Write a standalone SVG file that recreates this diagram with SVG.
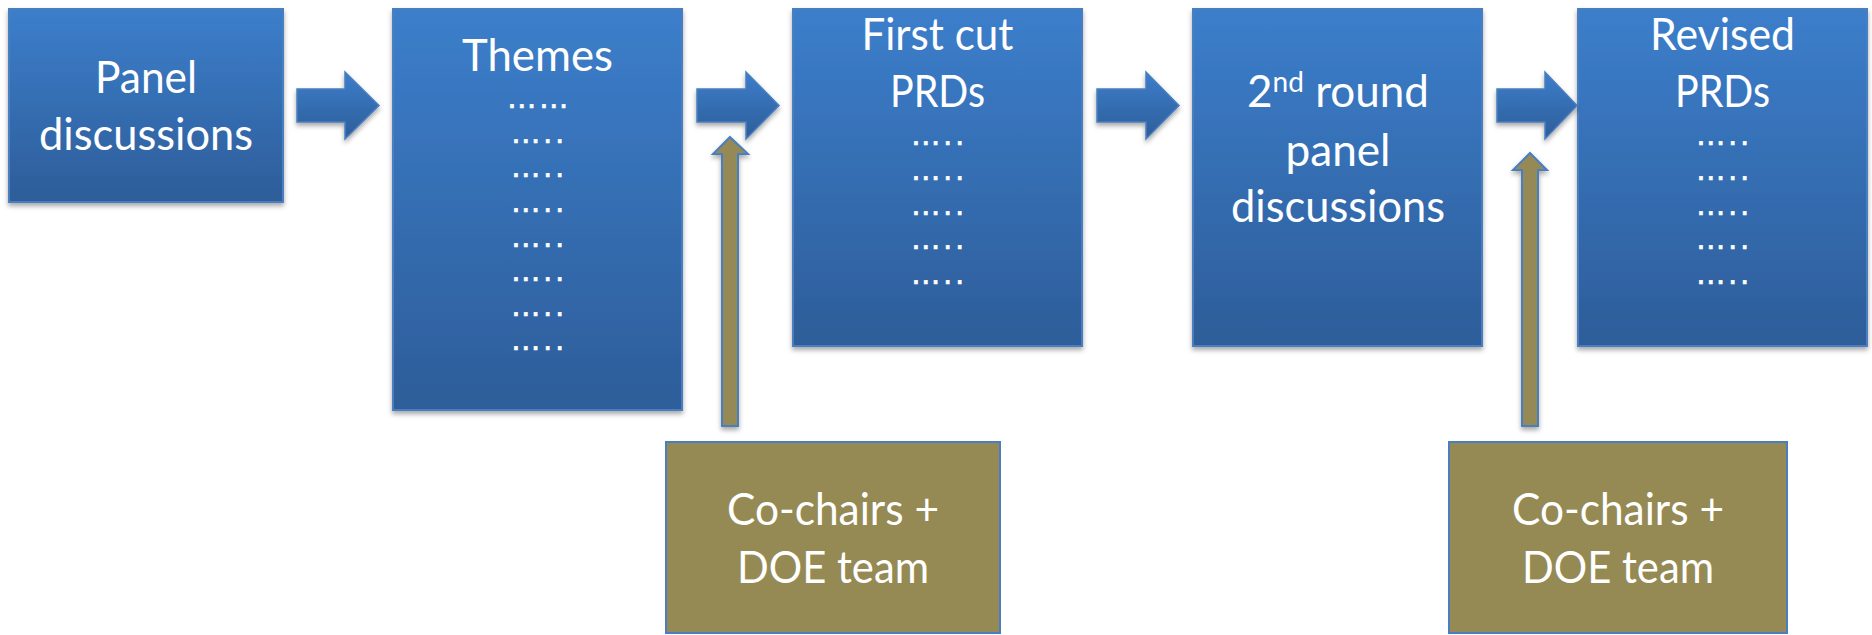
<svg xmlns="http://www.w3.org/2000/svg" width="1872" height="635" viewBox="0 0 1872 635">
<defs>
<linearGradient id="blue" x1="0" y1="0" x2="0" y2="1">
<stop offset="0" stop-color="#3C7ECB"/>
<stop offset="1" stop-color="#2D5D99"/>
</linearGradient>
<filter id="sh" x="-10%" y="-10%" width="120%" height="130%">
<feDropShadow dx="0" dy="3" stdDeviation="2.5" flood-color="#000" flood-opacity="0.35"/>
</filter>
</defs>
<style>
.box{fill:url(#blue);stroke:#4A7EC0;stroke-width:2;filter:url(#sh)}
.olive{fill:#958A54;stroke:#4A7EC0;stroke-width:2}
.arr{fill:url(#blue);stroke:#4A7EC0;stroke-width:1.5;filter:url(#sh)}
.varr{fill:#958A54;stroke:#4A7EC0;stroke-width:2;filter:url(#sh)}
text{font-family:Lato,"Open Sans","Liberation Sans",sans-serif;fill:#fff;text-anchor:middle}
.t{font-size:44px}
.d{font-family:"DejaVu Sans",sans-serif;font-size:29.5px;letter-spacing:2.5px;stroke:#fff;stroke-width:0.6}
</style>
<rect width="1872" height="635" fill="#fff"/>
<g id="panel">
<rect class="box" x="9" y="9" width="274" height="193"/>
<text class="t" x="146" y="93" textLength="102" lengthAdjust="spacingAndGlyphs">Panel</text>
<text class="t" x="146" y="150" textLength="214" lengthAdjust="spacingAndGlyphs">discussions</text>
</g>
<g id="themes">
<rect class="box" x="393" y="9" width="289" height="401"/>
<text class="t" x="537.5" y="71" textLength="151" lengthAdjust="spacingAndGlyphs">Themes</text>
<text class="d" x="539" y="108">……</text>
<text class="d" x="539" y="143">…..</text>
<text class="d" x="539" y="177">…..</text>
<text class="d" x="539" y="212">…..</text>
<text class="d" x="539" y="247">…..</text>
<text class="d" x="539" y="281">…..</text>
<text class="d" x="539" y="316">…..</text>
<text class="d" x="539" y="350">…..</text>
</g>
<g id="firstcut">
<rect class="box" x="793" y="9" width="289" height="337"/>
<text class="t" x="937.5" y="50" textLength="152" lengthAdjust="spacingAndGlyphs">First cut</text>
<text class="t" x="937.5" y="107" textLength="95" lengthAdjust="spacingAndGlyphs">PRDs</text>
<text class="d" x="939" y="145">…..</text>
<text class="d" x="939" y="180">…..</text>
<text class="d" x="939" y="215">…..</text>
<text class="d" x="939" y="249">…..</text>
<text class="d" x="939" y="284">…..</text>
</g>
<g id="round2">
<rect class="box" x="1193" y="9" width="289" height="337"/>
<text class="t" x="1338" y="107">2<tspan font-size="28" dy="-15">nd</tspan><tspan dy="15"> round</tspan></text>
<text class="t" x="1338" y="166" textLength="105" lengthAdjust="spacingAndGlyphs">panel</text>
<text class="t" x="1338" y="222" textLength="214" lengthAdjust="spacingAndGlyphs">discussions</text>
</g>
<g id="revised">
<rect class="box" x="1578" y="9" width="289" height="337"/>
<text class="t" x="1722.5" y="50" textLength="145" lengthAdjust="spacingAndGlyphs">Revised</text>
<text class="t" x="1722.5" y="107" textLength="95" lengthAdjust="spacingAndGlyphs">PRDs</text>
<text class="d" x="1724" y="145">…..</text>
<text class="d" x="1724" y="180">…..</text>
<text class="d" x="1724" y="215">…..</text>
<text class="d" x="1724" y="249">…..</text>
<text class="d" x="1724" y="284">…..</text>
</g>
<g id="cochairs1">
<rect class="olive" x="666" y="442" width="334" height="191"/>
<text class="t" x="833" y="525" textLength="212" lengthAdjust="spacingAndGlyphs">Co-chairs +</text>
<text class="t" x="833" y="583" textLength="192" lengthAdjust="spacingAndGlyphs">DOE team</text>
</g>
<g id="cochairs2">
<rect class="olive" x="1449" y="442" width="338" height="191"/>
<text class="t" x="1618" y="525" textLength="212" lengthAdjust="spacingAndGlyphs">Co-chairs +</text>
<text class="t" x="1618" y="583" textLength="192" lengthAdjust="spacingAndGlyphs">DOE team</text>
</g>
<g id="connectors">
<path class="arr" d="M297,89 H345 V72 L379,105.5 L345,139 V122 H297 Z"/>
<path class="arr" d="M697,89 H746 V72 L779,105.5 L746,139 V122 H697 Z"/>
<path class="arr" d="M1097,89 H1146 V72 L1179,105.5 L1146,139 V122 H1097 Z"/>
<path class="arr" d="M1497,89 H1545 V72 L1577,105.5 L1545,139 V122 H1497 Z"/>
<path class="varr" d="M730,137 L748,154 H738 V426 H722 V154 H713 Z"/>
<path class="varr" d="M1530,153 L1547,170 H1538 V426 H1522 V170 H1513 Z"/>
</g>
</svg>
